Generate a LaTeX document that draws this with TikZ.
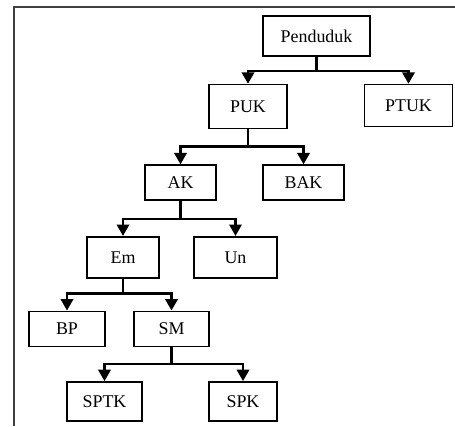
\documentclass[tikz,border=0pt]{standalone}
\usepackage{fontspec}
\setmainfont{Liberation Serif}
\usepackage{tikz}
\usetikzlibrary{arrows.meta,positioning}

\begin{document}
\begin{tikzpicture}[
    >={Triangle[width=7pt,length=6.5pt]},
    box/.style={draw, line width=0.9pt, align=center, inner sep=2pt,
      font=\fontsize{10.2}{12}\selectfont},
    every edge/.style={->, line width=1.4pt},
    conn/.style={->, line width=1.4pt},
  ]
  % page size and frame
  \useasboundingbox (0,0) rectangle (9.1,-8.52);
  \draw[line width=0.8pt, black!75] (0.28,-8.52) -- (0.28,-0.14) -- (9.1,-0.14);

  % level 0
  \node[box, minimum width=2.14cm, minimum height=0.80cm] (pen) at (6.33,-0.72) {Penduduk};

  % level 1
  \node[box, minimum width=1.56cm, minimum height=0.88cm, below=0.54cm of pen, xshift=-1.37cm] (puk) {PUK};
  \node[box, minimum width=1.76cm, minimum height=0.84cm, below=0.54cm of pen, xshift=1.84cm] (ptuk) {PTUK};

  % level 2
  \node[box, minimum width=1.42cm, minimum height=0.70cm, below=0.70cm of puk, xshift=-1.35cm] (ak) {AK};
  \node[box, minimum width=1.62cm, minimum height=0.70cm, below=0.70cm of puk, xshift=1.11cm] (bak) {BAK};

  % level 3
  \node[box, minimum width=1.44cm, minimum height=0.82cm, below=0.70cm of ak, xshift=-1.15cm] (em) {Em};
  \node[box, minimum width=1.66cm, minimum height=0.82cm, below=0.70cm of ak, xshift=1.10cm] (un) {Un};

  % level 4
  \node[box, minimum width=1.52cm, minimum height=0.70cm, below=0.64cm of em, xshift=-1.12cm] (bp) {BP};
  \node[box, minimum width=1.50cm, minimum height=0.70cm, below=0.64cm of em, xshift=0.97cm] (sm) {SM};

  % level 5
  \node[box, minimum width=1.50cm, minimum height=0.78cm, below=0.68cm of sm, xshift=-1.34cm] (sptk) {SPTK};
  \node[box, minimum width=1.36cm, minimum height=0.78cm, below=0.68cm of sm, xshift=1.43cm] (spk) {SPK};

  % Edges
  \draw[conn] (pen.south) -- ++(0,-0.28) -| (puk.north);
  \draw[conn] (pen.south) -- ++(0,-0.28) -| (ptuk.north);
  \draw[conn] (puk.south) -- ++(0,-0.34) -| (ak.north);
  \draw[conn] (puk.south) -- ++(0,-0.34) -| (bak.north);
  \draw[conn] (ak.south) -- ++(0,-0.36) -| (em.north);
  \draw[conn] (ak.south) -- ++(0,-0.36) -| (un.north);
  \draw[conn] (em.south) -- ++(0,-0.30) -| (bp.north);
  \draw[conn] (em.south) -- ++(0,-0.30) -| (sm.north);
  \draw[conn] (sm.south) -- ++(0,-0.34) -| (sptk.north);
  \draw[conn] (sm.south) -- ++(0,-0.34) -| (spk.north);
\end{tikzpicture}
\end{document}
